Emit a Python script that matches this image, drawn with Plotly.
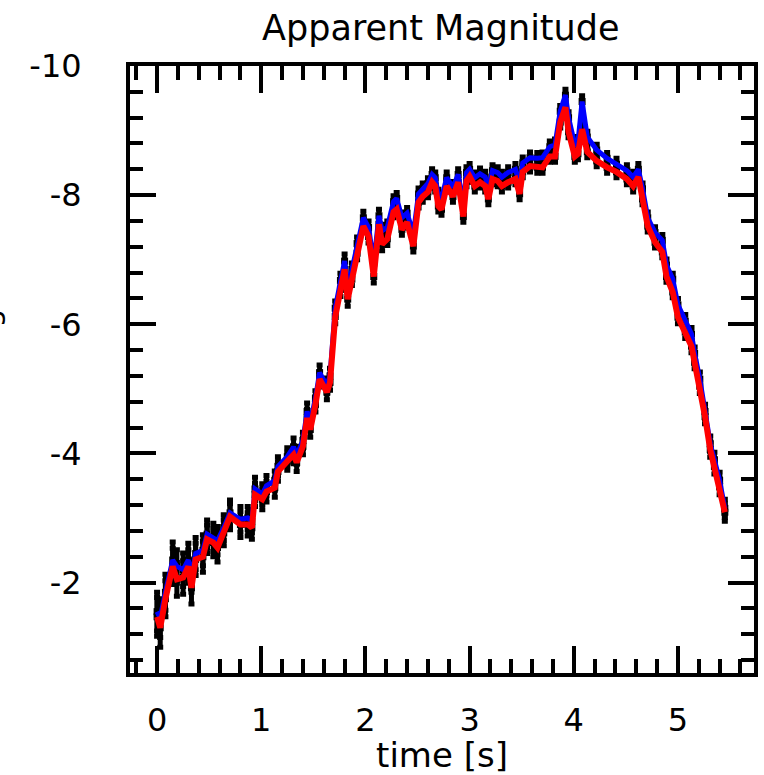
import plotly.graph_objects as go

time_s = [0.00, 0.03, 0.08, 0.15, 0.19, 0.25, 0.30, 0.33, 0.37, 0.44,
          0.48, 0.54, 0.58, 0.64, 0.70, 0.80, 0.87, 0.91, 0.94, 1.01,
          1.05, 1.13, 1.16, 1.25, 1.31, 1.34, 1.40, 1.44, 1.47, 1.52,
          1.56, 1.63, 1.66, 1.71, 1.76, 1.80, 1.83, 1.87, 1.92, 1.98,
          2.03, 2.08, 2.13, 2.16, 2.21, 2.27, 2.30, 2.35, 2.40, 2.46,
          2.51, 2.55, 2.60, 2.64, 2.67, 2.70, 2.73, 2.78, 2.84, 2.89,
          2.94, 2.97, 3.00, 3.05, 3.10, 3.15, 3.18, 3.22, 3.27, 3.31,
          3.37, 3.44, 3.48, 3.51, 3.58, 3.65, 3.70, 3.77, 3.82, 3.87,
          3.92, 3.95, 4.01, 4.04, 4.08, 4.13, 4.22, 4.32, 4.41, 4.51,
          4.57, 4.62, 4.66, 4.71, 4.78, 4.85, 4.89, 4.95, 5.00, 5.07,
          5.13, 5.16, 5.21, 5.26, 5.31, 5.35, 5.40, 5.45]

mag_red = [-1.47, -1.30, -1.75, -2.25, -2.05, -2.08, -2.25, -1.92, -2.36, -2.40,
           -2.67, -2.62, -2.54, -2.77, -3.02, -2.90, -2.90, -2.85, -3.36, -3.29,
           -3.41, -3.47, -3.72, -3.88, -3.98, -3.86, -4.11, -4.55, -4.37, -4.76,
           -5.15, -4.95, -5.10, -6.12, -6.54, -6.85, -6.39, -6.70, -7.10, -7.52,
           -7.36, -6.74, -7.55, -7.24, -7.32, -7.74, -7.78, -7.47, -7.58, -7.21,
           -7.89, -7.98, -8.05, -8.20, -8.14, -7.83, -7.78, -8.14, -7.98, -8.20,
           -7.67, -8.22, -8.29, -8.14, -8.20, -8.14, -7.94, -8.25, -8.22, -8.14,
           -8.20, -8.25, -8.02, -8.36, -8.45, -8.43, -8.43, -8.60, -8.60, -9.13,
           -9.36, -8.98, -8.60, -8.64, -9.02, -8.67, -8.53, -8.43, -8.36, -8.25,
           -8.14, -8.28, -7.94, -7.52, -7.27, -7.12, -6.74, -6.50, -6.11, -5.88,
           -5.66, -5.41, -5.04, -4.57, -4.06, -3.80, -3.49, -3.09]

mag_blue = [-1.55, -1.45, -1.85, -2.35, -2.25, -2.20, -2.35, -2.10, -2.45, -2.50,
            -2.75, -2.70, -2.65, -2.85, -3.08, -2.98, -3.00, -2.95, -3.45, -3.37,
            -3.50, -3.58, -3.80, -3.95, -4.10, -3.97, -4.20, -4.65, -4.48, -4.85,
            -5.25, -5.05, -5.20, -6.25, -6.68, -6.98, -6.55, -6.85, -7.25, -7.65,
            -7.50, -6.95, -7.68, -7.45, -7.50, -7.90, -7.95, -7.65, -7.72, -7.40,
            -8.02, -8.10, -8.18, -8.32, -8.27, -8.00, -7.95, -8.27, -8.12, -8.32,
            -7.85, -8.35, -8.40, -8.27, -8.33, -8.28, -8.10, -8.38, -8.35, -8.28,
            -8.35, -8.40, -8.18, -8.50, -8.58, -8.57, -8.58, -8.75, -8.78, -9.30,
            -9.55, -9.20, -8.78, -8.82, -9.45, -8.90, -8.70, -8.57, -8.48, -8.38,
            -8.28, -8.40, -8.10, -7.65, -7.42, -7.30, -6.92, -6.70, -6.30, -6.05,
            -5.85, -5.55, -5.15, -4.65, -4.15, -3.90, -3.58, -3.15]

mag_err = [0.30, 0.30, 0.28, 0.28, 0.26, 0.26, 0.26, 0.25, 0.25, 0.24,
           0.22, 0.22, 0.22, 0.20, 0.20, 0.20, 0.18, 0.18, 0.18, 0.16,
           0.16, 0.15, 0.15, 0.14, 0.14, 0.14, 0.13, 0.13, 0.12, 0.12,
           0.12, 0.12, 0.12, 0.11, 0.11, 0.11, 0.11, 0.10, 0.10, 0.10,
           0.10, 0.10, 0.10, 0.10, 0.10, 0.09, 0.09, 0.09, 0.09, 0.09,
           0.09, 0.09, 0.09, 0.09, 0.09, 0.09, 0.09, 0.09, 0.09, 0.09,
           0.09, 0.09, 0.09, 0.09, 0.09, 0.09, 0.09, 0.09, 0.09, 0.09,
           0.09, 0.09, 0.09, 0.09, 0.09, 0.09, 0.09, 0.09, 0.09, 0.09,
           0.09, 0.09, 0.09, 0.09, 0.09, 0.09, 0.09, 0.09, 0.09, 0.09,
           0.09, 0.09, 0.09, 0.09, 0.09, 0.09, 0.09, 0.09, 0.10, 0.10,
           0.10, 0.10, 0.11, 0.11, 0.12, 0.12, 0.13, 0.14]

x_ticks = [0, 1, 2, 3, 4, 5]
x_labels = ["0", "1", "2", "3", "4", "5"]
y_ticks = [-10, -8, -6, -4, -2]
y_labels = ["-10", "-8", "-6", "-4", "-2"]

FONT = "DejaVu Sans"

fig = go.Figure()

for yvals in (mag_blue, mag_red):
    fig.add_trace(go.Scatter(
        x=time_s, y=yvals, mode="markers",
        marker=dict(size=7, color="black", symbol="square"),
        error_y=dict(type="data", array=mag_err, color="black", thickness=5, width=3),
        showlegend=False, hoverinfo="skip"))

fig.add_trace(go.Scatter(x=time_s, y=mag_blue, mode="lines",
                         line=dict(color="#0000ff", width=5), showlegend=False))
fig.add_trace(go.Scatter(x=time_s, y=mag_red, mode="lines",
                         line=dict(color="#ff0000", width=6), showlegend=False))

axis_common = dict(
    showline=True, linecolor="black", linewidth=4, mirror="ticks",
    ticks="inside", tickcolor="black", tickwidth=4,
    showgrid=False, zeroline=False, automargin=False, tickmode="array",
    tickfont=dict(family=FONT, size=32, color="black"),
)

fig.update_xaxes(
    range=[-0.26, 5.73], tickvals=x_ticks, ticktext=x_labels, ticklen=27,
    minor=dict(dtick=0.2, tick0=0, ticks="inside", ticklen=14, tickwidth=4, tickcolor="black"),
    ticklabelstandoff=16,
    title=dict(text="time [s]", font=dict(family=FONT, size=34, color="black"), standoff=15),
    **axis_common)

fig.update_yaxes(
    range=[-0.6, -10], tickvals=y_ticks, ticktext=y_labels, ticklen=26,
    minor=dict(dtick=0.4, tick0=0, ticks="inside", ticklen=13, tickwidth=4, tickcolor="black"),
    ticklabelstandoff=38,
    **axis_common)

fig.add_annotation(text="mag", xref="paper", yref="paper", x=-0.196, y=0.545,
                   xanchor="right", yanchor="middle", textangle=-90, showarrow=False,
                   font=dict(family=FONT, size=30, color="black"))

fig.update_layout(
    width=764, height=775,
    margin=dict(l=130, r=10, t=66, b=102, autoexpand=False),
    paper_bgcolor="white", plot_bgcolor="white",
    title=dict(text="Apparent Magnitude", x=0.577, xanchor="center", y=0.964, yanchor="middle",
               font=dict(family=FONT, size=35, color="black")),
)

fig.write_html("out.html", config={"displayModeBar": False},
               post_script="document.body.style.margin='0';document.body.style.overflow='hidden';")
